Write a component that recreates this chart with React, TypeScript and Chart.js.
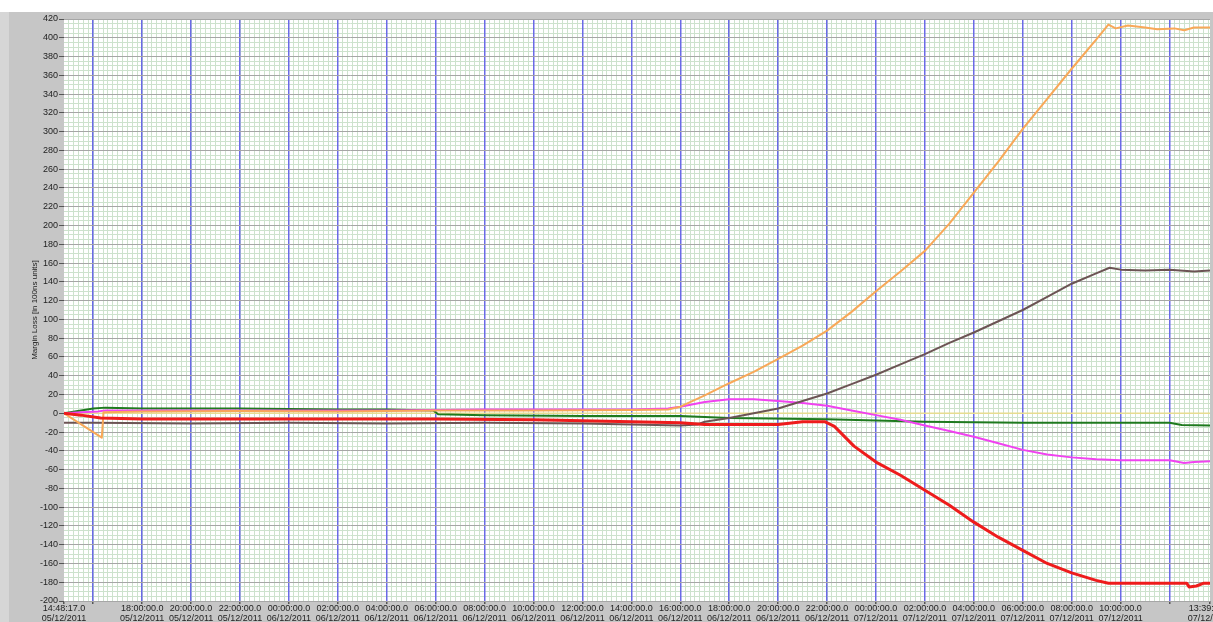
import React, { useEffect, useRef } from 'react';
import { Chart, registerables } from 'chart.js';

Chart.register(...registerables);

// x values are hours since 00:00 on 05/12/2011
const START = 14 + 48 / 60 + 17 / 3600; // 14:48:17 05/12
const END = 48 + 13 + 39 / 60 + 17 / 3600; // 13:39:17 07/12

const xTickValues = [START, 16, 18, 20, 22, 24, 26, 28, 30, 32, 34, 36, 38, 40, 42, 44, 46, 48, 50, 52, 54, 56, 58, 60, END];
const xTickTimes = [
  '14:48:17.0', '', '18:00:00.0', '20:00:00.0', '22:00:00.0',
  '00:00:00.0', '02:00:00.0', '04:00:00.0', '06:00:00.0', '08:00:00.0', '10:00:00.0',
  '12:00:00.0', '14:00:00.0', '16:00:00.0', '18:00:00.0', '20:00:00.0', '22:00:00.0',
  '00:00:00.0', '02:00:00.0', '04:00:00.0', '06:00:00.0', '08:00:00.0', '10:00:00.0',
  '', '13:39:17.0',
];
const xTickDates = [
  '05/12/2011', '', '05/12/2011', '05/12/2011', '05/12/2011',
  '06/12/2011', '06/12/2011', '06/12/2011', '06/12/2011', '06/12/2011', '06/12/2011',
  '06/12/2011', '06/12/2011', '06/12/2011', '06/12/2011', '06/12/2011', '06/12/2011',
  '07/12/2011', '07/12/2011', '07/12/2011', '07/12/2011', '07/12/2011', '07/12/2011',
  '', '07/12/2011',
];
const yTickValues = [-200, -180, -160, -140, -120, -100, -80, -60, -40, -20, 0, 20, 40, 60, 80, 100, 120, 140, 160, 180, 200, 220, 240, 260, 280, 300, 320, 340, 360, 380, 400, 420];

const redHours = [START, 15.5, 16.3, 18, 22, 26, 30, 34, 36, 38, 40, 41, 42, 44, 45, 45.9, 46.3, 47.1, 48, 49, 50, 51, 52, 53, 54, 55, 56, 57, 57.5, 58, 59, 60, 60.7, 60.8, 61.1, 61.4, END];
const redValues = [0, -2, -5, -6, -6, -6, -6, -7, -8, -9, -10, -12, -12, -12, -9, -9, -14, -35, -52, -66, -82, -98, -116, -132, -146, -160, -170, -178, -181, -181, -181, -181, -181, -185, -184, -181, -181];

const orangeHours = [START, 16.35, 16.42, 18, 22, 26, 30, 34, 38, 39.5, 40, 41, 42, 43, 44, 45, 46, 47, 48, 49, 50, 51, 52, 53, 54, 55, 56, 57, 57.5, 57.8, 58.3, 59, 59.5, 60.2, 60.6, 61, END];
const orangeValues = [0, -26, 1, 2, 2.5, 2, 3, 3, 3.5, 4, 7, 19, 32, 44, 58, 72, 88, 108, 130, 151, 173, 202, 235, 268, 303, 335, 367, 398, 414, 410, 413, 411, 409, 410, 408, 411, 411];

const brownHours = [START, 16, 20, 24, 28, 32, 36, 38, 40, 40.7, 41, 42, 43, 44, 45, 46, 47, 48, 49, 50, 51, 52, 53, 54, 55, 56, 57, 57.55, 58, 59, 60, 61, END];
const brownValues = [-10, -10, -11, -10, -11, -10, -11, -12, -13, -12, -9, -5, 0, 5, 13, 21, 31, 41, 52, 63, 75, 86, 98, 110, 124, 138, 149, 155, 153, 152, 153, 151, 152];

const magentaHours = [START, 15.5, 16.2, 16.5, 20, 24, 28, 32, 36, 38, 39.5, 40, 41, 42, 43, 44, 45, 46, 47, 48, 49, 50, 51, 52, 53, 54, 55, 56, 57, 58, 59, 60, 60.6, 61, END];
const magentaValues = [0, 1, 2, 3, 3, 3, 3, 4, 4, 4, 5, 7, 12, 15, 15, 13, 11, 8, 3, -2, -7, -13, -19, -25, -32, -39, -44, -47, -49, -50, -50, -50, -53, -52, -51];

const greenHours = [START, 15.5, 16, 16.5, 18, 20, 22, 26, 28, 29.9, 30.1, 32, 36, 40, 42, 46, 50, 54, 58, 60, 60.5, END];
const greenValues = [0, 3, 5, 6, 5, 5, 5, 4, 4, 3, -1, -2, -3, -3, -5, -6.5, -9, -10, -10, -10, -12.5, -13];

const yellowHours = [START, END];
const yellowValues = [0, 0];

const pts = (xs: number[], ys: number[]) => xs.map((x, i) => ({ x, y: ys[i] }));

const FONT = "'Liberation Sans', Arial, sans-serif";
const MINOR = '#cde2cd';

const bgPlugin = {
  id: 'bgPanel',
  beforeDraw(chart: any) {
    const { ctx, width, height, chartArea: a } = chart;
    ctx.save();
    ctx.fillStyle = '#c6c6c6';
    ctx.fillRect(0, 0, width, height);
    ctx.fillStyle = '#d6d6d6';
    ctx.fillRect(0, 12, 9, height - 12);
    ctx.fillStyle = '#ffffff';
    ctx.fillRect(0, 0, width, 12);
    ctx.fillRect(a.left, a.top, a.right - a.left, a.bottom - a.top);
    ctx.restore();
  },
};

export default function App() {
  const ref = useRef<HTMLCanvasElement | null>(null);
  useEffect(() => {
    document.body.style.margin = '0';
    if (!ref.current) return;
    const line = (label: string, xs: number[], ys: number[], color: string, w: number) => ({
      label,
      data: pts(xs, ys),
      borderColor: color,
      backgroundColor: color,
      borderWidth: w,
      pointRadius: 0,
      tension: 0,
      borderJoinStyle: 'round' as const,
      xAxisID: 'x',
      yAxisID: 'y',
    });
    const chart = new Chart(ref.current, {
      type: 'line',
      data: {
        datasets: [
          line('Red', redHours, redValues, '#ee1c1c', 3),
          line('Orange', orangeHours, orangeValues, '#f8a858', 2),
          line('Brown', brownHours, brownValues, '#6c5454', 2),
          line('Magenta', magentaHours, magentaValues, '#f042f0', 2),
          line('Green', greenHours, greenValues, '#1e7a1e', 2),
          line('Yellow', yellowHours, yellowValues, '#e8dc90', 1.5),
        ],
      },
      options: {
        animation: false,
        responsive: false,
        devicePixelRatio: 1,
        parsing: false as any,
        layout: { padding: { top: 19, right: 3, bottom: 0, left: 0 } },
        plugins: { legend: { display: false }, tooltip: { enabled: false } },
        scales: {
          x: {
            type: 'linear',
            position: 'bottom',
            min: START,
            max: END,
            afterBuildTicks: (s: any) => {
              s.ticks = xTickValues.map((v) => ({ value: v }));
            },
            afterFit: (s: any) => {
              s.height = 21;
              s.paddingLeft = 0;
              s.paddingRight = 0;
            },
            ticks: {
              autoSkip: false,
              maxRotation: 0,
              minRotation: 0,
              padding: 0,
              color: '#222',
              font: { family: FONT, size: 9, lineHeight: 1.1 },
              callback: (_v: any, i: number) => (xTickTimes[i] ? [xTickTimes[i], xTickDates[i]] : ''),
            },
            grid: {
              color: (c: any) => (c.index === 0 || c.index === xTickValues.length - 1 ? 'rgba(0,0,0,0)' : '#6a6ae6'),
              lineWidth: 1.5,
              tickLength: 3,
              tickColor: '#555',
              z: -1,
            },
            border: { display: false },
          },
          x2: {
            type: 'linear',
            axis: 'x',
            position: 'bottom',
            min: START,
            max: END,
            afterBuildTicks: (s: any) => {
              const t: any[] = [];
              for (let k = Math.ceil(START * 5); k <= Math.floor(END * 5); k++) t.push({ value: k / 5 });
              s.ticks = t;
            },
            afterFit: (s: any) => {
              s.height = 0;
              s.paddingLeft = 0;
              s.paddingRight = 0;
            },
            ticks: { display: false },
            grid: { color: MINOR, lineWidth: 1, drawTicks: false, z: -2 },
            border: { display: false },
          },
          y: {
            type: 'linear',
            position: 'left',
            min: -200,
            max: 420,
            afterBuildTicks: (s: any) => {
              s.ticks = yTickValues.map((v) => ({ value: v }));
            },
            afterFit: (s: any) => {
              s.width = 64;
              s.paddingTop = 0;
              s.paddingBottom = 0;
            },
            ticks: {
              padding: 1,
              color: '#222',
              font: { family: FONT, size: 9 },
              callback: (v: any) => String(v),
            },
            grid: { color: '#a6a6a6', lineWidth: 1, tickLength: 5, tickColor: '#555', z: -1 },
            border: { display: false },
            title: {
              display: true,
              text: 'Margin Loss [in 100ns units]',
              color: '#222',
              font: { family: FONT, size: 8 },
              padding: { top: 30, bottom: 0 },
            },
          },
          y2: {
            type: 'linear',
            axis: 'y',
            position: 'left',
            min: -200,
            max: 420,
            afterBuildTicks: (s: any) => {
              const t: any[] = [];
              for (let v = -200; v <= 420; v += 5) t.push({ value: v });
              s.ticks = t;
            },
            afterFit: (s: any) => {
              s.width = 0;
              s.paddingTop = 0;
              s.paddingBottom = 0;
            },
            ticks: { display: false },
            grid: { color: MINOR, lineWidth: 1, drawTicks: false, z: -2 },
            border: { display: false },
          },
        },
      } as any,
      plugins: [bgPlugin],
    });
    return () => chart.destroy();
  }, []);
  return (
    <div style={{ width: 1213, height: 622 }}>
      <canvas ref={ref} width={1213} height={622} style={{ display: 'block' }} />
    </div>
  );
}
